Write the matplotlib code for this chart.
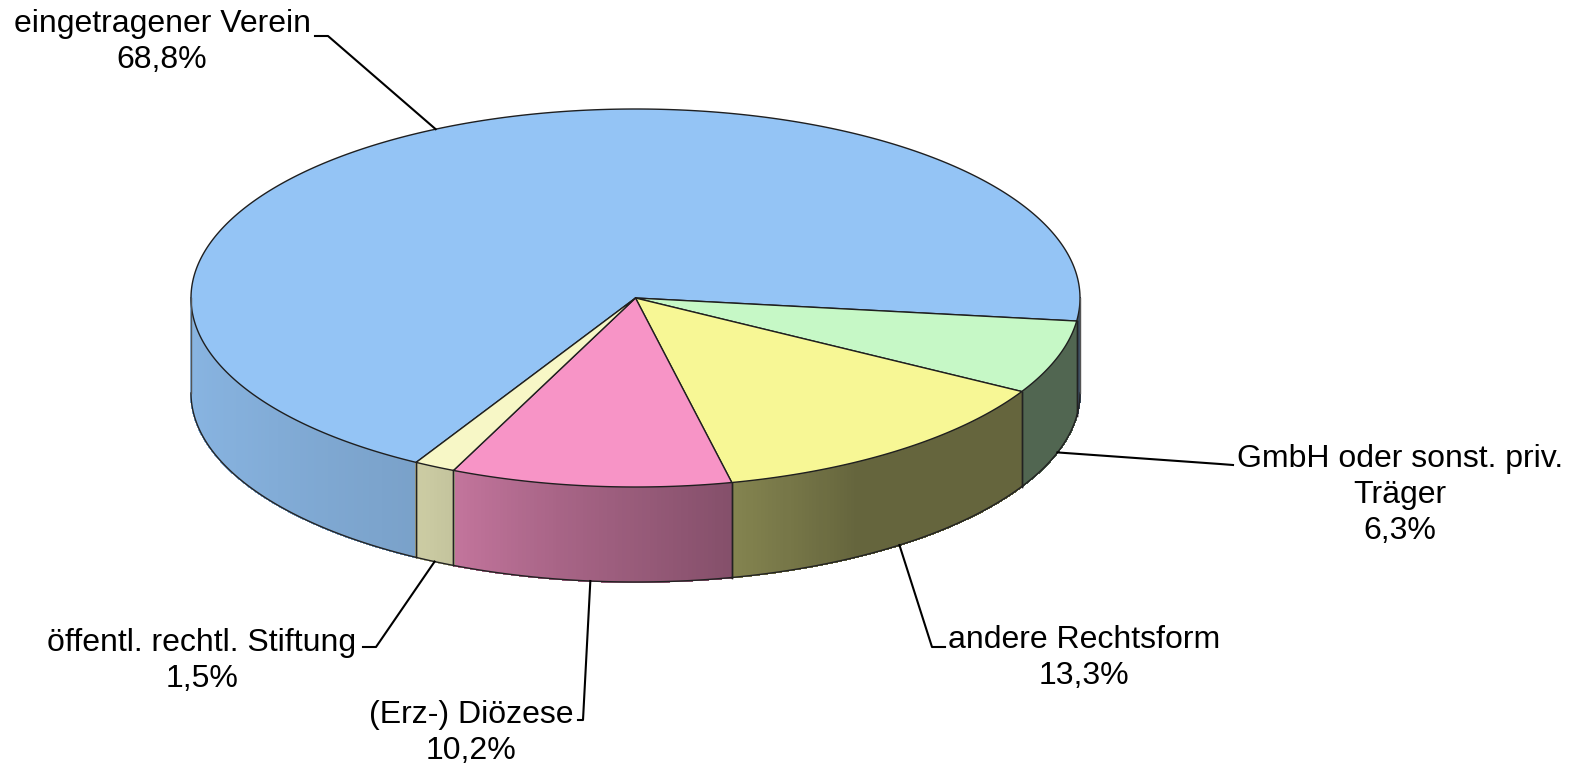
import numpy as np
import matplotlib
matplotlib.use("Agg")
import matplotlib.pyplot as plt
from matplotlib.patches import Polygon
from matplotlib.collections import PolyCollection

# data (clockwise order, starting with the big slice)
labels = ["eingetragener Verein", "GmbH oder sonst. priv.\nTräger", "andere Rechtsform",
          "(Erz-) Diözese", "öffentl. rechtl. Stiftung"]
values = [68.8, 6.3, 13.3, 10.2, 1.5]
colors = ["#94C4F5", "#C6F8C6", "#F7F795", "#F794C6", "#F7F7C6"]

# label layout: text centre, then leader points from text to the pie
text_xy = [(162, 42), (1400, 495), (1084, 658), (471, 733), (202, 661)]
leader = [[(315, 36), (328, 36)],
          [(1233, 465), (1220, 464)],
          [(945, 647), (932, 647)],
          [(578, 720), (583, 720)],
          [(363, 647), (376, 647)]]

# pie geometry in pixels
W, H = 1579, 765
cx, cy, rx, ry, depth = 635.5, 298, 444.5, 189, 95
gap_angle = -7.0   # boundary between Verein and GmbH

fig = plt.figure(figsize=(W / 100, H / 100), dpi=100)
ax = fig.add_axes([0, 0, 1, 1])
ax.set_xlim(0, W)
ax.set_ylim(H, 0)
ax.axis("off")

def pt(t, dz=0.0):
    r = np.radians(t)
    return cx + rx * np.cos(r), cy - ry * np.sin(r) + dz

def shade(t):
    return np.interp(t, [-180, -150, -118, -100, -78, -60, 0],
                     [0.93, 0.89, 0.82, 0.68, 0.54, 0.41, 0.41])

vals = np.array(values, dtype=float)
spans = vals / vals.sum() * 360
start = gap_angle + spans[0]
hi = start - np.concatenate([[0], np.cumsum(spans)[:-1]])
lo = hi - spans

# side walls (front half only)
for i in range(len(vals)):
    base = np.array(matplotlib.colors.to_rgb(colors[i]))
    for k in (-1, 0, 1):
        a = max(lo[i], -180 + 360 * k)
        b = min(hi[i], 360 * k)
        if b <= a:
            continue
        a, b = a - 360 * k, b - 360 * k
        ts = np.linspace(a, b, max(2, int((b - a) / 0.5)) + 1)
        polys, cols = [], []
        for t0, t1 in zip(ts[:-1], ts[1:]):
            polys.append([pt(t0), pt(t1), pt(t1, depth), pt(t0, depth)])
            cols.append(np.clip(base * shade((t0 + t1) / 2), 0, 1))
        ax.add_collection(PolyCollection(polys, facecolors=cols, edgecolors=cols,
                                         linewidths=0.8, antialiased=False))
        bx, by = pt(ts, depth)
        ax.plot(bx, by, color="#222222", lw=1.0)
        for t in (a, b):
            x0, y0 = pt(t)
            edge = "#555555" if t in (-180, 0) else "#222222"
            ax.plot([x0, x0], [y0, y0 + depth], color=edge, lw=1.0)

# top faces
for i in range(len(vals)):
    ts = np.linspace(hi[i], lo[i], max(3, int(spans[i] / 0.5)))
    ex, ey = pt(ts)
    verts = [(cx, cy)] + list(zip(ex, ey))
    ax.add_patch(Polygon(verts, closed=True, facecolor=colors[i], edgecolor="#1f1f1f",
                         lw=1.0, joinstyle="round"))

# labels and leader lines
for i in range(len(vals)):
    mid = (hi[i] + lo[i]) / 2
    ax_, ay_ = pt(mid, depth if np.sin(np.radians(mid)) < 0 else 0)
    pts = leader[i] + [(ax_, ay_)]
    ax.plot([p[0] for p in pts], [p[1] for p in pts], color="black", lw=1.5)
    pct = f"{values[i]:.1f}".replace(".", ",") + "%"
    ax.text(text_xy[i][0], text_xy[i][1], f"{labels[i]}\n{pct}", ha="center", va="center",
            multialignment="center", fontsize=23, family="Liberation Sans", linespacing=1.27)

fig.savefig("out.png", dpi=100)
